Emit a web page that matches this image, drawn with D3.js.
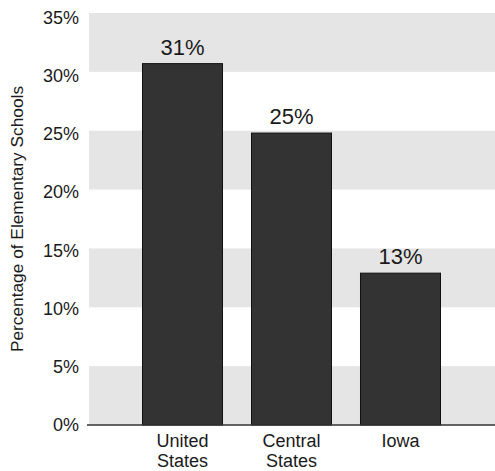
<!DOCTYPE html>
<html>
<head>
<meta charset="utf-8">
<script src="https://cdn.jsdelivr.net/npm/d3@7"></script>
<style>
  body { margin: 0; background: #fff; }
  text { font-family: "Liberation Sans", Arial, Helvetica, sans-serif; fill: #1a1a1a; }
</style>
</head>
<body>
<div id="vis"></div>
<script>
var categories = [["United", "States"], ["Central", "States"], ["Iowa"]];
var values = [30.7, 24.8, 12.9];
var yTicks = [0, 5, 10, 15, 20, 25, 30, 35];
var grayBands = [[0, 5], [10, 15], [20, 25], [30, 35]];

var width = 495, height = 471;
var margin = { top: 13, right: 0, bottom: 46, left: 88 },
  widthVis = width - margin.left - margin.right,
  heightVis = height - margin.top - margin.bottom;

var svg = d3.select("#vis")
  .append("svg")
  .attr("width", width)
  .attr("height", height);

var g = svg.append("g")
  .attr("transform", "translate(" + margin.left + "," + margin.top + ")");

var y = d3.scaleLinear().domain([0, 35]).range([heightVis, 0]);
var x = d3.scaleBand()
  .domain(d3.range(categories.length))
  .range([0, widthVis])
  .paddingInner(0.266)
  .paddingOuter(0.5);

////////// background bands //////////
g.selectAll("rect.band")
  .data(grayBands)
  .enter()
  .append("rect")
  .attr("class", "band")
  .attr("x", 1)
  .attr("width", widthVis)
  .attr("y", function (d) { return y(d[1]); })
  .attr("height", function (d) { return y(d[0]) - y(d[1]); })
  .style("fill", "#e5e5e5");

////////// y axis labels //////////
// labels sit a little lower than the band edges toward the top
g.selectAll("text.ytick")
  .data(yTicks)
  .enter()
  .append("text")
  .attr("class", "ytick")
  .attr("x", -9)
  .attr("y", function (d) { return y(d) + d * 0.13; })
  .attr("dy", "0.35em")
  .attr("text-anchor", "end")
  .style("font-size", "18px")
  .text(function (d) { return d + "%"; });

g.append("text")
  .attr("transform", "translate(" + (-65) + "," + (heightVis / 2) + ") rotate(-90)")
  .attr("text-anchor", "middle")
  .style("font-size", "17.3px")
  .text("Percentage of Elementary Schools");

////////// bars //////////
g.selectAll("rect.bar")
  .data(values)
  .enter()
  .append("rect")
  .attr("class", "bar")
  .attr("x", function (d, i) { return x(i); })
  .attr("width", x.bandwidth())
  .attr("y", function (d) { return y(d); })
  .attr("height", function (d) { return y(0) - y(d); })
  .style("fill", "#333333")
  .style("stroke", "#111")
  .style("stroke-width", 1);

g.selectAll("text.val")
  .data(values)
  .enter()
  .append("text")
  .attr("class", "val")
  .attr("x", function (d, i) { return x(i) + x.bandwidth() / 2; })
  .attr("y", function (d) { return y(d) - 9; })
  .attr("text-anchor", "middle")
  .style("font-size", "22px")
  .text(function (d) { return Math.round(d) + "%"; });

// baseline
g.append("line")
  .attr("x1", -1)
  .attr("x2", widthVis)
  .attr("y1", y(0))
  .attr("y2", y(0))
  .style("stroke", "#333")
  .style("stroke-width", 1.5);

////////// x labels //////////
var xl = g.selectAll("text.cat")
  .data(categories)
  .enter()
  .append("text")
  .attr("class", "cat")
  .attr("text-anchor", "middle")
  .attr("transform", function (d, i) { return "translate(" + (x(i) + x.bandwidth() / 2) + "," + (heightVis + 22) + ")"; })
  .style("font-size", "18px");
xl.selectAll("tspan")
  .data(function (d) { return d; })
  .enter()
  .append("tspan")
  .attr("x", 0)
  .attr("dy", function (d, i) { return i === 0 ? 0 : 20; })
  .text(function (d) { return d; });
</script>
</body>
</html>
